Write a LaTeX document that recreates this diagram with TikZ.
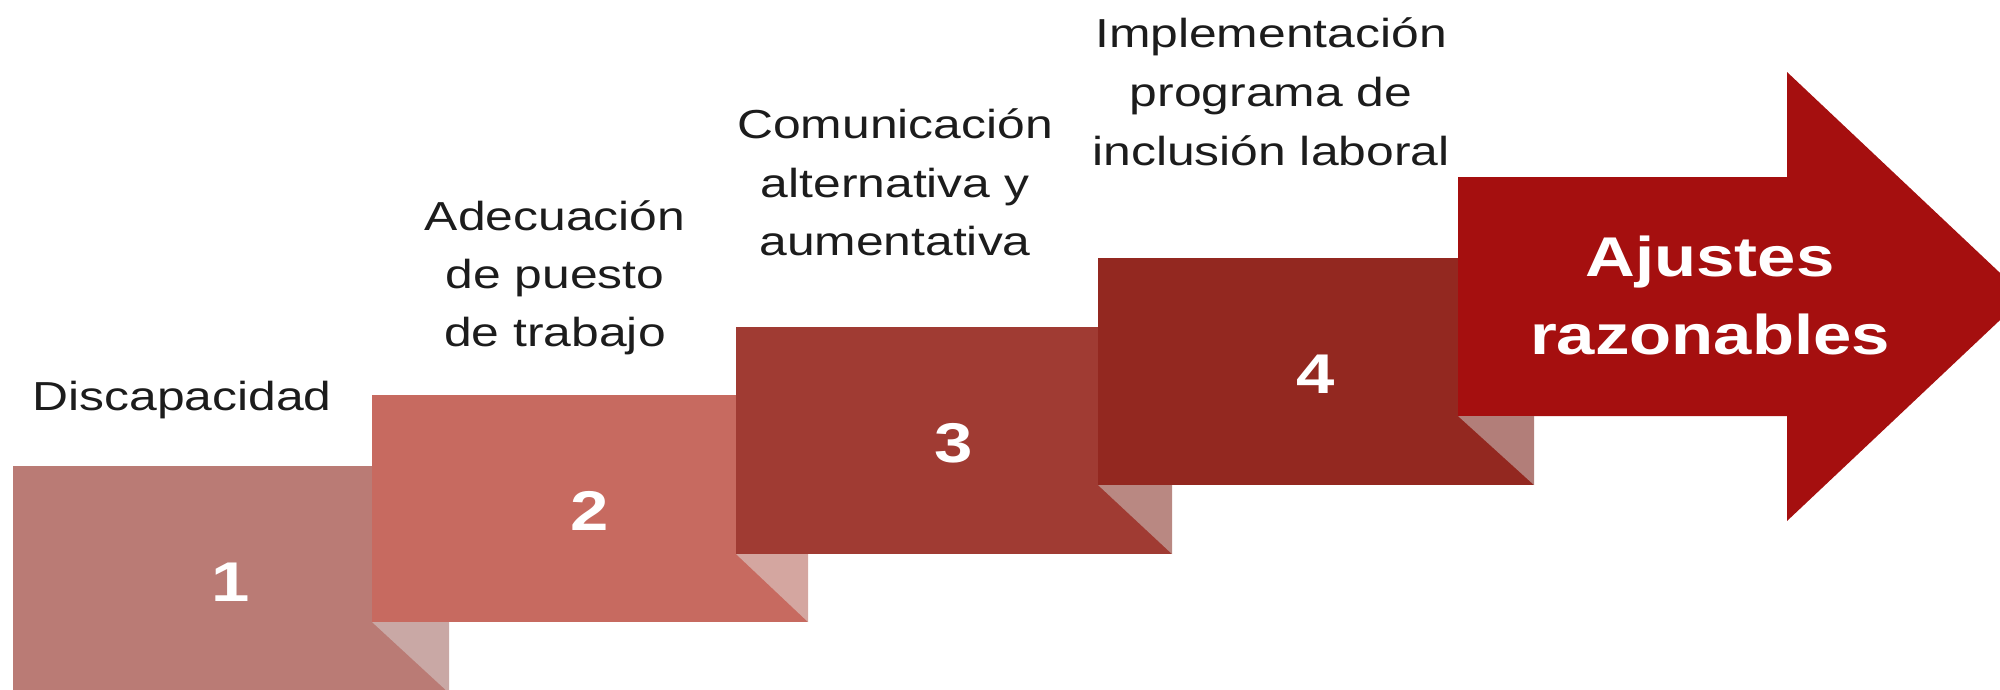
\documentclass[tikz,border=0pt]{standalone}
\usepackage{fontspec}
\newfontfamily\labfont[FakeStretch=1.23]{Liberation Sans}
\definecolor{boxA}{HTML}{BA7B75}
\definecolor{boxB}{HTML}{C76A60}
\definecolor{boxC}{HTML}{A03B33}
\definecolor{boxD}{HTML}{932820}
\definecolor{arrowc}{HTML}{A50F0F}
\definecolor{foldA}{HTML}{C9A8A5}
\definecolor{foldB}{HTML}{D4A6A0}
\definecolor{foldC}{HTML}{B98882}
\definecolor{foldD}{HTML}{B27E79}
\definecolor{txtc}{HTML}{1C1C1C}
\newcommand{\lastd}{\rule[-10pt]{0pt}{10pt}}
\tikzset{
  lbl/.style={font=\labfont\fontsize{40.5}{#1}\selectfont, text=txtc, align=center, inner sep=0pt, anchor=south},
  num/.style={font=\labfont\bfseries\fontsize{56}{60}\selectfont, text=white, inner sep=0pt, anchor=center},
  big/.style={font=\labfont\bfseries\fontsize{56}{78}\selectfont, text=white, align=center, inner sep=0pt, anchor=south}
}
\begin{document}
\begin{tikzpicture}[x=1pt,y=-1pt]
\useasboundingbox (0,0) rectangle (2000,689);
\clip (0,0) rectangle (2000,689);
% boxes
\fill[boxA] (13,466) rectangle (449,693);
\fill[boxB] (372,395) rectangle (808,622);
\fill[foldA] (372,622) -- (449,622) -- (449,693) -- cycle;
\fill[boxC] (736,327) rectangle (1172,554);
\fill[foldB] (736,554) -- (808,554) -- (808,622) -- cycle;
\fill[boxD] (1098,258) rectangle (1534,485);
\fill[foldC] (1098,485) -- (1172,485) -- (1172,554) -- cycle;
% arrow
\fill[arrowc] (1458,177) -- (1787,177) -- (1787,72) -- (2025,296.5) -- (1787,521) -- (1787,416) -- (1458,416) -- cycle;
\fill[foldD] (1458,416) -- (1534,416) -- (1534,485) -- cycle;
% numbers
\node[num] (n1) at (231,582) {1};
\node[num] (n2) at (590,511) {2};
\node[num] (n3) at (954,443) {3};
\node[num] (n4) at (1316,374) {4};
% labels
\node[lbl=58] (l1) at (182,421) {Discapacidad\lastd};
\node[lbl=58] (l2) at (555,357) {Adecuación\\de puesto\\de trabajo\lastd};
\node[lbl=58.5] (l3) at (895,266) {Comunicación\\alternativa y\\aumentativa\lastd};
\node[lbl=59] (l4) at (1271,176) {Implementación\\programa de\\inclusión laboral\lastd};
\node[big] (aj) at (1710,365) {Ajustes\\razonables\lastd};
\end{tikzpicture}
\end{document}
